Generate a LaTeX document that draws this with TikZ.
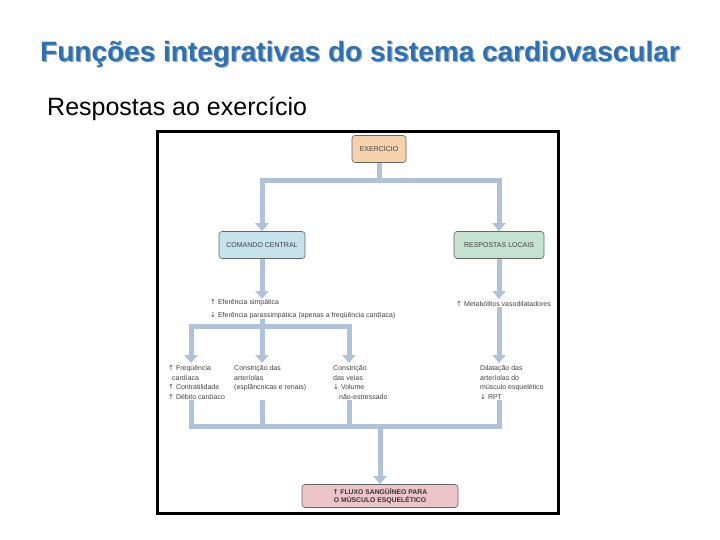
\documentclass[tikz,border=0pt]{standalone}
\usepackage{fontspec}
\setmainfont{Liberation Sans}
\newfontfamily\arrfont{DejaVu Sans}
\usetikzlibrary{arrows.meta,positioning}
\definecolor{titblue}{HTML}{2A71B5}
\definecolor{titshadow}{HTML}{A5A5A5}
\definecolor{pipeblue}{HTML}{AFC2DA}
\definecolor{exorange}{HTML}{F5D2AC}
\definecolor{ccblue}{HTML}{C6E3EC}
\definecolor{rlgreen}{HTML}{C5E1CF}
\definecolor{flpink}{HTML}{EDC4C8}
\definecolor{txtgray}{HTML}{404040}
\newcommand\arrup{{\arrfont ↑}}
\newcommand\arrdn{{\arrfont ↓}}
\tikzset{
  box/.style={rounded corners=3pt,draw=black!60,line width=0.6pt,align=center,font=\fontsize{7}{8.5}\selectfont,text=txtgray,inner sep=2pt,minimum height=27pt},
  exbox/.style={box,fill=exorange,minimum width=54pt},
  ccbox/.style={box,fill=ccblue,minimum width=86pt},
  rlbox/.style={box,fill=rlgreen,minimum width=90pt},
  flbox/.style={box,fill=flpink,minimum width=156pt,minimum height=23pt,font=\fontsize{6.8}{8.2}\bfseries\selectfont,text=black!80},
  lbl/.style={align=left,font=\fontsize{7}{9.8}\selectfont,text=txtgray,inner sep=0pt,anchor=north west},
  pipe/.style={draw=pipeblue,line width=5pt,-{Triangle[width=13pt,length=8pt]}},
  bar/.style={draw=pipeblue,line width=5pt},
}
\begin{document}
\begin{tikzpicture}[x=1pt,y=-1pt]
  \useasboundingbox (0,0) rectangle (720,540);
  % headings
  \node[titshadow,font=\fontsize{28}{30}\bfseries\selectfont] (titsh) at (361.2,55.2) {Funções integrativas do sistema cardiovascular};
  \node[titblue,font=\fontsize{28}{30}\bfseries\selectfont] (tit) at (360,54) {Funções integrativas do sistema cardiovascular};
  \node[anchor=west,font=\fontsize{25}{27}\selectfont,inner sep=0pt] (sub) at (47,109) {Respostas ao exercício};
  \draw[line width=3pt] (157,132) rectangle (558,513);

  % boxes
  \node[exbox] (ex) at (379,149) {EXERCÍCIO};
  \node[ccbox] (cc) at (262,245) {COMANDO CENTRAL};
  \node[rlbox] (rl) at (499,245) {RESPOSTAS LOCAIS};
  \node[flbox] (fl) at (380,496) {\arrup\ FLUXO SANGÜÍNEO PARA\\O MÚSCULO ESQUELÉTICO};

  % texts
  \node[lbl,font=\fontsize{7}{13}\selectfont] (ef) at (210,299) {\arrup\ Eferência simpática\\\arrdn\ Eferência parassimpática (apenas a freqüência cardíaca)};
  \node[lbl] (met) at (456,301) {\arrup\ Metabólitos vasodilatadores};
  \node[lbl] (c1) at (168,365) {\arrup\ Freqüência\\\hspace*{4pt}cardíaca\\\arrup\ Contratilidade\\\arrup\ Débito cardíaco};
  \node[lbl] (c2) at (234,365) {Constrição das\\arteríolas\\(esplâncnicas e renais)};
  \node[lbl] (c3) at (333,365) {Constrição\\das veias\\\arrdn\ Volume\\\hspace*{6pt}não-estressado};
  \node[lbl] (c4) at (480,365) {Dilatação das\\arteríolas do\\músculo esquelético\\\arrdn\ RPT};

  % junctions
  \coordinate (j1) at (379,181);
  \coordinate (j2) at (262,326);
  \coordinate (j3) at (380,426);
  \coordinate (t1) at (191,363);
  \coordinate (t2) at (262,363);
  \coordinate (t3) at (349,363);
  \coordinate (t4) at (499,363);

  % connectors
  \draw[bar] (ex.south) -- (j1);
  \draw[pipe] (j1) -| (cc.north);
  \draw[pipe] (j1) -| (rl.north);
  \draw[pipe] (cc.south) -- (cc.south |- ef.north);
  \draw[pipe] (rl.south) -- (rl.south |- ef.north);
  \draw[bar] (cc.south |- ef.south) -- (j2);
  \foreach \t in {t1,t2,t3} \draw[pipe] (j2) -| (\t);
  \draw[pipe] (t4 |- met.south) -- (t4);
  \foreach \t in {t1,t2,t3,t4} \draw[bar] (\t |- c1.south) |- (j3);
  \draw[pipe] (j3) -- (fl.north);
\end{tikzpicture}
\end{document}
